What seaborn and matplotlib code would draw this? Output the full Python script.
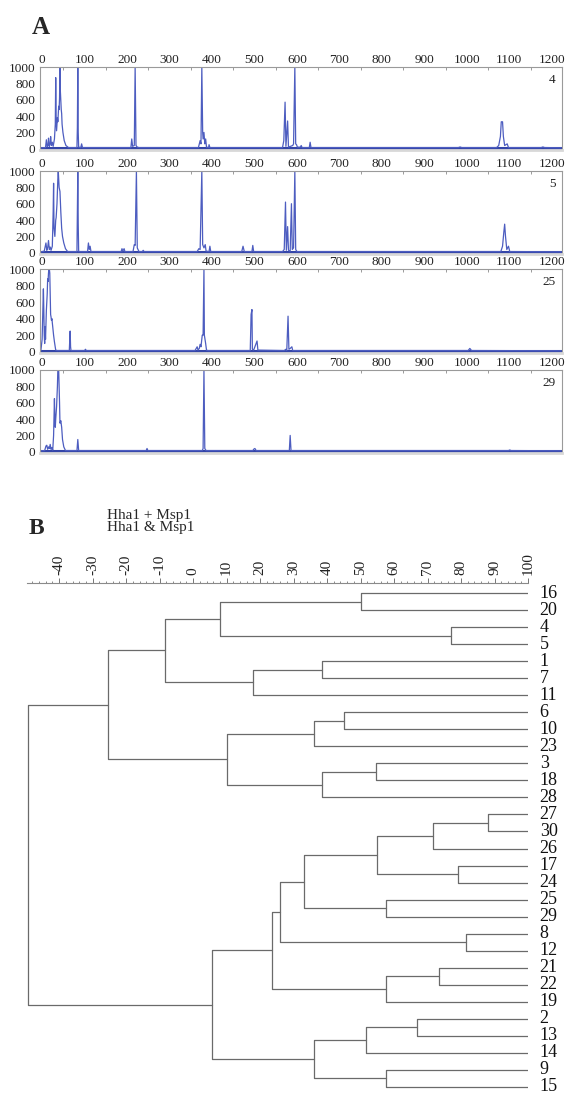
import matplotlib.pyplot as plt
import seaborn as sns
import pandas as pd

# ---- panel A: T-RFLP electropherograms (fragment size, signal) ----
trace_4 = [(-3, 12), (8, 15), (10, 110), (12, 25), (14, 40), (15, 130), (17, 30), (19, 60), (20, 150),
           (22, 40), (24, 80), (26, 30), (29, 120), (31, 300), (32, 870), (33, 380), (34, 220), (36, 380),
           (37, 330), (39, 520), (40, 480), (41, 620), (42, 1000), (43, 700), (45, 480), (46, 430),
           (47, 300), (49, 200), (52, 100), (56, 40), (62, 15),
           (82, 15), (83, 260), (84, 1000), (85, 200), (86, 20), (91, 15), (93, 60), (95, 15),
           (209, 15), (211, 120), (213, 30), (217, 40), (219, 1000), (221, 40), (224, 20), (228, 15),
           (368, 15), (372, 100), (374, 60), (376, 1000), (378, 200), (379, 120), (381, 200), (383, 60),
           (385, 120), (387, 20), (392, 15), (393, 50), (395, 15),
           (566, 15), (569, 100), (572, 570), (574, 30), (578, 340), (580, 20), (590, 40), (592, 60),
           (595, 1000), (597, 60), (599, 50), (601, 20), (608, 20), (610, 40), (612, 15), (629, 15),
           (631, 80), (633, 15), (980, 15), (984, 22), (988, 15),
           (1070, 15), (1075, 40), (1079, 150), (1081, 330), (1084, 330), (1086, 150), (1089, 40),
           (1095, 60), (1098, 15), (1175, 15), (1179, 22), (1183, 15), (1222, 12)]

trace_5 = [(-3, 12), (5, 20), (9, 120), (11, 30), (13, 60), (15, 150), (17, 40), (19, 70), (21, 30),
           (24, 80), (26, 500), (27, 850), (28, 300), (30, 200), (32, 400), (33, 430), (35, 600),
           (37, 900), (38, 1000), (40, 800), (42, 750), (44, 500), (46, 300), (48, 200), (51, 120),
           (55, 50), (60, 15),
           (82, 15), (84, 1000), (85, 350), (86, 20), (88, 15),
           (107, 15), (109, 120), (111, 40), (113, 80), (115, 15),
           (186, 15), (188, 50), (190, 20), (193, 50), (195, 15),
           (214, 15), (217, 100), (219, 90), (222, 1000), (224, 60), (228, 15), (236, 15), (238, 30),
           (240, 15), (365, 15), (369, 50), (372, 40), (376, 1000), (378, 100), (381, 60), (384, 100),
           (386, 20), (393, 15), (395, 80), (397, 15),
           (470, 15), (473, 80), (476, 15), (494, 15), (496, 90), (498, 15),
           (566, 15), (570, 40), (573, 620), (575, 30), (578, 320), (580, 30), (584, 20), (587, 600),
           (589, 40), (592, 60), (595, 1000), (597, 40), (600, 15),
           (1080, 15), (1084, 80), (1087, 250), (1089, 350), (1091, 200), (1094, 40), (1098, 80),
           (1101, 15), (1222, 12)]

trace_25 = [(-3, 12), (0, 150), (2, 560), (3, 760), (4, 500), (5, 200), (6, 100), (7, 300), (8, 150),
            (10, 500), (12, 700), (13, 880), (14, 850), (15, 950), (16, 1000), (17, 1000), (18, 950),
            (19, 700), (20, 450), (21, 420), (22, 380), (23, 400), (25, 300), (27, 200), (29, 120),
            (32, 20), (35, 15),
            (64, 15), (66, 250), (67, 60), (68, 15), (100, 15), (102, 30), (104, 15),
            (360, 15), (365, 60), (367, 20), (370, 40), (372, 90), (374, 60), (377, 200), (379, 200),
            (381, 1000), (382, 200), (385, 100), (387, 20), (390, 15),
            (490, 15), (492, 450), (494, 510), (495, 30), (498, 20), (506, 130), (508, 20),
            (570, 15), (574, 30), (576, 15), (579, 430), (581, 30), (584, 40), (588, 60), (590, 15),
            (1003, 15), (1007, 40), (1011, 15), (1222, 12)]

trace_29 = [(-3, 12), (6, 15), (9, 70), (11, 80), (13, 30), (15, 60), (17, 40), (19, 90), (21, 30),
            (23, 50), (25, 20), (27, 200), (29, 650), (30, 400), (31, 300), (32, 400), (34, 550),
            (36, 800), (37, 1000), (39, 1000), (41, 600), (42, 350), (44, 380), (46, 300), (48, 150),
            (51, 60), (55, 15),
            (82, 15), (84, 150), (86, 15), (245, 15), (247, 40), (249, 15),
            (377, 15), (379, 40), (381, 1000), (383, 40), (386, 15),
            (496, 15), (499, 35), (501, 40), (504, 15), (582, 15), (584, 200), (586, 15),
            (1098, 15), (1101, 22), (1104, 15), (1222, 12)]

samples = ['4', '5', '25', '29']
traces = [trace_4, trace_5, trace_25, trace_29]
size_ticks = list(range(0, 1300, 100))
signal_ticks = list(range(0, 1200, 200))

# ---- panel B: UPGMA-style dendrogram (similarity scale) ----
leaves = ['16', '20', '4', '5', '1', '7', '11', '6', '10', '23', '3', '18', '28', '27', '30',
          '26', '17', '24', '25', '29', '8', '12', '21', '22', '19', '2', '13', '14', '9', '15']
merges = [
    ('16', '20', 50.0),    # n1
    ('4', '5', 77.0),      # n2
    ('n1', 'n2', 8.0),     # n3
    ('1', '7', 38.5),      # n4
    ('n4', '11', 18.0),    # n5
    ('n3', 'n5', -8.5),    # n6
    ('6', '10', 45.0),     # n7
    ('n7', '23', 36.0),    # n8
    ('3', '18', 54.5),     # n9
    ('n9', '28', 38.5),    # n10
    ('n8', 'n10', 10.0),   # n11
    ('n6', 'n11', -25.5),  # n12
    ('27', '30', 88.0),    # n13
    ('n13', '26', 71.5),   # n14
    ('17', '24', 79.0),    # n15
    ('n14', 'n15', 55.0),  # n16
    ('25', '29', 57.5),    # n17
    ('n16', 'n17', 33.0),  # n18
    ('8', '12', 81.5),     # n19
    ('n18', 'n19', 26.0),  # n20
    ('21', '22', 73.5),    # n21
    ('n21', '19', 57.5),   # n22
    ('n20', 'n22', 23.5),  # n23
    ('2', '13', 67.0),     # n24
    ('n24', '14', 51.5),   # n25
    ('9', '15', 57.5),     # n26
    ('n25', 'n26', 36.0),  # n27
    ('n23', 'n27', 5.5),   # n28
    ('n12', 'n28', -49.3), # n29 (root)
]
sim_ticks = list(range(-40, 110, 10))

sns.set_style('white')
plt.rcParams['font.family'] = ['Liberation Serif', 'DejaVu Serif']

W, H = 570, 1095
fig = plt.figure(figsize=(W / 100, H / 100), dpi=100)

line_col = '#4d5dc0'
base_col = '#3445a8'
spine_col = '#9a9a9a'

# pixel boxes (top, bottom) of the four traces
rows = [(67, 150), (171, 254), (269, 353), (370, 453)]
for (top, bot), name, tr in zip(rows, samples, traces):
    ax = fig.add_axes([40 / W, 1 - bot / H, 522 / W, (bot - top) / H])
    df = pd.DataFrame(tr, columns=['size', 'signal'])
    ax.axhline(12, color=base_col, lw=2.2, zorder=1)
    sns.lineplot(data=df, x='size', y='signal', sort=False, estimator=None,
                 color=line_col, lw=0.9, ax=ax, zorder=2)
    ax.set_xlim(-5, 1224)
    ax.set_ylim(-15, 1000)
    ax.xaxis.tick_top()
    ax.set_xticks(size_ticks)
    ax.set_xticks(list(range(50, 1250, 100)), minor=True)
    ax.set_yticks(signal_ticks)
    ax.tick_params(axis='x', which='major', labelsize=9.5, pad=0.5, length=0,
                   labelcolor='#222222')
    ax.tick_params(axis='x', which='minor', length=2.5, direction='in', color=spine_col, width=0.7)
    ax.tick_params(axis='y', labelsize=9.5, pad=1.5, length=2, color=spine_col,
                   labelcolor='#222222')
    ax.set_xlabel('')
    ax.set_ylabel('')
    for side in ['top', 'left', 'right']:
        ax.spines[side].set_color(spine_col)
        ax.spines[side].set_linewidth(0.8)
    ax.spines['bottom'].set_color('#d8d8d8')
    ax.spines['bottom'].set_linewidth(2.0)
    ax.text(0.988, 0.84, name, transform=ax.transAxes, ha='right', va='center',
            fontsize=9.5, color='#222222')

fig.text(41 / W, 1 - 27 / H, 'A', ha='center', va='center', fontsize=18, fontweight='bold')

# ---- dendrogram ----
axb = fig.add_axes([27 / W, 0, 501 / W, (H - 583) / H])
pos = {name: (100.0, float(i)) for i, name in enumerate(leaves)}
segs = []
for k, (a, b, sim) in enumerate(merges):
    xa, ya = pos[a]
    xb, yb = pos[b]
    segs += [(k, xa, ya), (k, sim, ya), (k, sim, yb), (k, xb, yb)]
    pos['n%d' % (k + 1)] = (sim, (ya + yb) / 2)
seg_df = pd.DataFrame(segs, columns=['link', 'similarity', 'row'])
sns.lineplot(data=seg_df, x='similarity', y='row', units='link', estimator=None, sort=False,
             color='#6a6a6a', lw=0.9, ax=axb)

axb.set_xlim(-49.6, 100)
axb.set_ylim(len(leaves) - 1 + 8 / 17.03, -10 / 17.03)
axb.xaxis.tick_top()
axb.set_xticks(sim_ticks)
axb.set_xticklabels([str(t) for t in sim_ticks], rotation=90)
axb.set_xticks(list(range(-48, 101, 2)), minor=True)
axb.set_yticks([])
axb.tick_params(axis='x', which='major', labelsize=11, pad=2, length=3.5,
                color='#777777', width=0.7, labelcolor='#222222')
axb.tick_params(axis='x', which='minor', length=1.8, color='#777777', width=0.6)
axb.set_xlabel('')
axb.set_ylabel('')
for side in ['bottom', 'left', 'right']:
    axb.spines[side].set_visible(False)
axb.spines['top'].set_color('#8a8a8a')
axb.spines['top'].set_linewidth(0.8)

for i, name in enumerate(leaves):
    axb.text(103.5, i, name, ha='left', va='center', fontsize=13, color='#111111',
             clip_on=False)

fig.text(36 / W, 1 - 529 / H, 'B', ha='center', va='center', fontsize=17, fontweight='bold')
fig.text(107 / W, 1 - 515 / H, 'Hha1 + Msp1', ha='left', va='center', fontsize=11)
fig.text(107 / W, 1 - 528 / H, 'Hha1 & Msp1', ha='left', va='center', fontsize=11)

fig.savefig('out.png', dpi=100)
